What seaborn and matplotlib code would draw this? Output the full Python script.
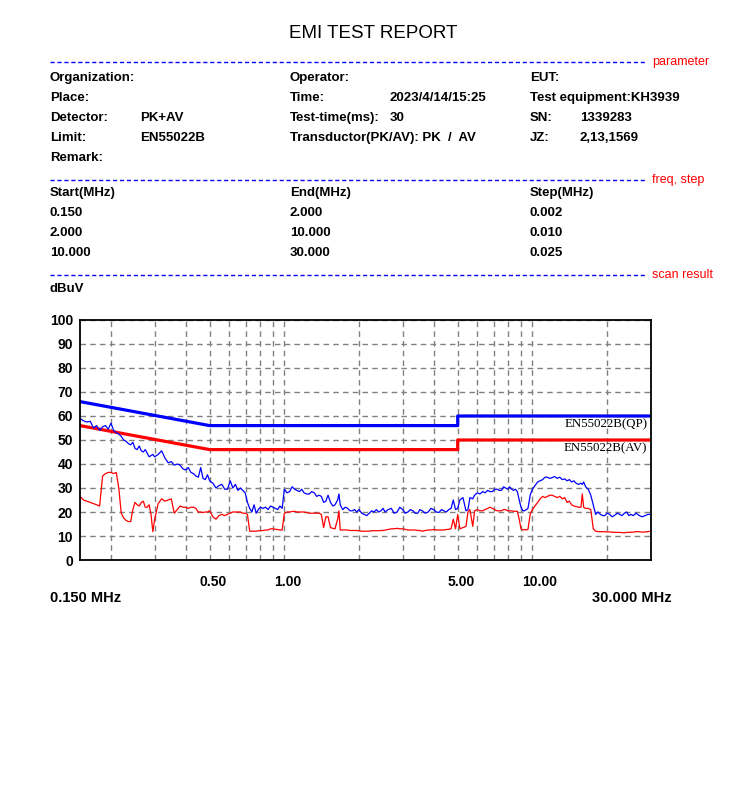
import matplotlib
matplotlib.use("Agg")
import matplotlib.pyplot as plt
from matplotlib.lines import Line2D
from matplotlib.transforms import ScaledTranslation
import pandas as pd
import seaborn as sns

# ── Scan data ─────────────────────────────────────────────────
freq_mhz = [0.150, 0.155, 0.160, 0.165, 0.170, 0.175, 0.180, 0.185, 0.190, 0.195,
            0.200, 0.205, 0.210, 0.215, 0.220, 0.225, 0.230, 0.235, 0.240, 0.245,
            0.250, 0.255, 0.260, 0.265, 0.270, 0.275, 0.280, 0.285, 0.290, 0.295,
            0.30, 0.31, 0.32, 0.33, 0.34, 0.35, 0.36, 0.37, 0.38, 0.39,
            0.40, 0.41, 0.42, 0.43, 0.44, 0.45, 0.46, 0.47, 0.48, 0.49,
            0.500, 0.515, 0.530, 0.545, 0.560, 0.575, 0.590, 0.605, 0.620, 0.635,
            0.650, 0.665, 0.680, 0.695, 0.710, 0.725, 0.740, 0.755, 0.770, 0.785,
            0.80, 0.82, 0.84, 0.86, 0.88, 0.90, 0.92, 0.94, 0.96, 0.98,
            1.000, 1.025, 1.050, 1.075, 1.100, 1.125, 1.150, 1.175, 1.20, 1.23,
            1.26, 1.29, 1.32, 1.35, 1.38, 1.41, 1.44, 1.47, 1.50, 1.535,
            1.57, 1.60, 1.64, 1.66, 1.68, 1.72, 1.76, 1.80, 1.84, 1.88,
            1.92, 1.96, 2.00, 2.05, 2.10, 2.15, 2.20, 2.25, 2.30, 2.35,
            2.40, 2.45, 2.50, 2.55, 2.62, 2.70, 2.77, 2.85, 2.92, 3.00,
            3.07, 3.15, 3.22, 3.30, 3.37, 3.45, 3.52, 3.60, 3.70, 3.80,
            3.90, 4.00, 4.10, 4.20, 4.30, 4.40, 4.50, 4.60, 4.70, 4.80,
            4.90, 5.00, 5.10, 5.25, 5.40, 5.50, 5.60, 5.75, 5.85, 6.00,
            6.15, 6.30, 6.45, 6.60, 6.75, 6.90, 7.05, 7.20, 7.35, 7.50,
            7.65, 7.80, 7.95, 8.10, 8.25, 8.40, 8.55, 8.70, 8.85, 9.00,
            9.15, 9.30, 9.45, 9.60, 9.80, 10.0, 10.25, 10.5, 10.75, 11.0,
            11.25, 11.5, 11.75, 12.0, 12.3, 12.6, 12.9, 13.2, 13.5, 13.8,
            14.1, 14.4, 14.7, 15.0, 15.35, 15.7, 15.9, 16.1, 16.4, 16.8,
            17.2, 17.6, 18.0, 18.4, 18.8, 19.2, 19.6, 20.0, 20.5, 21.0,
            21.5, 22.0, 22.5, 23.0, 23.5, 24.0, 24.5, 25.0, 25.5, 26.2,
            27.0, 27.7, 28.5, 29.2, 30.0]

peak_dbuv = [59.0, 58.0, 57.5, 57.8, 55.0, 56.0, 54.0, 55.5, 56.0, 54.5,
             57.0, 54.0, 53.0, 52.5, 51.5, 50.0, 49.5, 48.5, 48.0, 49.0,
             46.5, 46.0, 47.5, 45.5, 45.0, 46.0, 44.5, 43.0, 43.5, 44.0,
             43.0, 44.0, 45.5, 42.5, 40.5, 41.0, 39.5, 40.0, 39.5, 38.0,
             37.5, 38.5, 36.5, 36.0, 35.0, 34.5, 38.5, 34.0, 33.5, 35.5,
             33.0, 32.0, 30.0, 31.0, 31.5, 29.5, 29.5, 33.0, 30.0, 31.5,
             29.0, 30.0, 29.0, 28.0, 24.0, 21.5, 20.0, 23.0, 19.5, 21.0,
             22.0, 21.5, 22.0, 21.0, 22.5, 22.0, 21.5, 21.0, 22.5, 21.5,
             29.5, 28.0, 28.5, 30.5, 29.5, 29.0, 28.5, 29.5, 28.0, 27.5,
             27.5, 28.5, 28.0, 26.5, 27.0, 26.5, 24.0, 24.5, 27.0, 24.0,
             22.5, 23.0, 25.0, 27.5, 23.0, 21.0, 22.0, 21.5, 20.5, 20.5,
             21.0, 20.0, 21.0, 19.5, 19.0, 18.5, 19.5, 20.5, 20.0, 21.0,
             20.0, 20.5, 21.5, 20.0, 21.0, 21.5, 19.5, 20.0, 22.0, 21.0,
             19.5, 20.0, 21.0, 20.5, 19.5, 19.5, 21.0, 20.5, 19.5, 20.0,
             21.5, 21.0, 20.0, 19.8, 21.0, 20.5, 20.0, 21.0, 21.5, 25.0,
             21.0, 21.5, 25.0, 26.0, 20.5, 21.0, 26.0, 25.5, 27.0, 28.0,
             27.5, 28.5, 28.0, 29.0, 28.5, 28.5, 29.5, 29.5, 29.0, 29.0,
             30.5, 30.0, 29.5, 30.5, 29.5, 29.0, 29.5, 28.5, 25.0, 22.0,
             20.5, 20.5, 21.0, 21.5, 27.0, 29.5, 31.0, 32.5, 33.0, 33.5,
             34.5, 34.5, 34.0, 34.3, 34.8, 34.0, 34.5, 33.5, 33.8, 33.0,
             33.5, 32.5, 33.0, 32.0, 31.5, 32.0, 31.5, 32.5, 30.5, 29.5,
             27.0, 23.0, 19.0, 20.0, 19.0, 18.5, 18.5, 19.5, 19.0, 18.0,
             18.7, 19.5, 19.0, 18.5, 19.5, 20.0, 18.5, 19.0, 18.5, 19.5,
             18.5, 18.0, 18.5, 19.0, 19.0]

avg_dbuv = [26.5, 25.0, 24.5, 24.0, 23.5, 23.0, 22.5, 35.0, 36.0, 36.5,
            36.5, 36.0, 36.5, 30.0, 19.5, 17.5, 16.5, 16.0, 16.0, 21.0,
            24.0, 23.0, 22.5, 24.0, 24.5, 22.0, 22.0, 23.0, 19.0, 11.8,
            17.0, 23.5, 25.5, 24.5, 25.0, 25.5, 19.5, 21.0, 22.5, 22.0,
            22.0, 21.5, 22.0, 22.0, 21.5, 20.0, 20.0, 19.8, 20.0, 20.0,
            20.5, 18.0, 17.0, 18.5, 19.0, 18.5, 19.0, 19.5, 20.0, 20.0,
            20.0, 20.0, 19.5, 19.5, 19.0, 12.0, 12.0, 12.0, 12.0, 12.2,
            12.2, 12.3, 12.5, 12.5, 13.0, 13.0, 12.8, 12.7, 12.5, 12.5,
            19.5, 20.0, 20.0, 20.2, 20.3, 20.0, 20.0, 20.0, 20.0, 19.8,
            19.5, 19.5, 19.5, 19.5, 19.5, 19.0, 13.5, 18.0, 18.0, 13.5,
            13.2, 13.0, 17.0, 20.5, 12.5, 12.5, 12.5, 12.5, 12.3, 12.3,
            12.3, 12.3, 12.2, 12.0, 12.0, 12.0, 12.0, 12.2, 12.2, 12.2,
            12.2, 12.3, 12.3, 12.5, 12.7, 13.0, 13.0, 13.2, 13.0, 13.0,
            12.8, 12.5, 12.5, 12.5, 12.5, 12.3, 12.3, 12.0, 12.3, 12.5,
            12.5, 12.7, 12.5, 12.5, 12.5, 12.5, 12.7, 12.8, 13.0, 17.0,
            13.0, 19.0, 13.0, 13.5, 14.0, 20.0, 21.0, 14.0, 20.5, 21.0,
            20.5, 20.5, 21.0, 21.5, 22.0, 21.5, 21.0, 20.5, 20.5, 20.5,
            21.0, 21.0, 20.5, 20.5, 20.5, 20.3, 20.3, 20.3, 17.0, 13.0,
            12.5, 12.7, 12.5, 12.8, 19.0, 21.0, 22.5, 24.0, 25.5, 26.5,
            26.0, 26.5, 27.0, 27.0, 26.5, 26.0, 26.5, 25.5, 26.0, 24.0,
            24.5, 23.0, 22.5, 22.3, 22.0, 22.0, 27.5, 22.0, 21.5, 21.5,
            21.0, 13.0, 12.0, 11.8, 11.8, 11.8, 11.8, 11.7, 11.7, 11.6,
            11.5, 11.5, 11.5, 11.4, 11.3, 11.5, 11.5, 11.6, 11.6, 11.8,
            11.8, 11.6, 11.7, 11.8, 12.0]

# EN55022 class B limits
limit_freq = [0.15, 0.5, 5.0, 5.0, 30.0]
limit_qp = [66, 56, 56, 60, 60]
limit_av = [56, 46, 46, 50, 50]

x_label_freqs = [0.5, 1.0, 5.0, 10.0]
x_labels = ["0.50", "1.00", "5.00", "10.00"]
grid_freqs = [0.2, 0.3, 0.4, 0.5, 0.6, 0.7, 0.8, 0.9, 1.0,
              2, 3, 4, 5, 6, 7, 8, 9, 10, 20]
y_ticks = list(range(0, 101, 10))

sns.set_theme(style="white")
plt.rcParams["font.family"] = ["Liberation Sans", "DejaVu Sans"]
plt.rcParams["text.color"] = "black"

W, H = 750, 800
fig = plt.figure(figsize=(W / 100, H / 100), dpi=100)


def fx(x):
    return x / W


def fy(y):
    return 1 - y / H


def label(x, y, s, **kw):
    kw.setdefault("fontsize", 9.5)
    kw.setdefault("fontweight", "bold")
    kw.setdefault("color", "black")
    fig.text(fx(x), fy(y), s, va="center", ha=kw.pop("ha", "left"), **kw)


# ── Header ────────────────────────────────────────────────────
label(373, 33, "EMI TEST REPORT", ha="center", fontsize=13.5, fontweight="normal")

for y, tag in [(62, "parameter"), (180, "freq, step"), (275, "scan result")]:
    fig.add_artist(Line2D([fx(50), fx(646)], [fy(y), fy(y)], color="#0000ff",
                          lw=1, linestyle=(0, (3, 2))))
    label(652, y, tag, color="#ff0000", fontsize=9, fontweight="normal")

rows = [
    (78, [(50, "Organization:"), (290, "Operator:"), (530, "EUT:")]),
    (98, [(50, "Place:"), (290, "Time:"), (390, "2023/4/14/15:25"),
          (530, "Test equipment:KH3939")]),
    (118, [(50, "Detector:"), (140, "PK+AV"), (290, "Test-time(ms):"), (390, "30"),
           (530, "SN:"), (580, "1339283")]),
    (138, [(50, "Limit:"), (140, "EN55022B"), (290, "Transductor(PK/AV): PK  /  AV"),
           (530, "JZ:"), (580, "2,13,1569")]),
    (158, [(50, "Remark:")]),
    (193, [(50, "Start(MHz)"), (290, "End(MHz)"), (530, "Step(MHz)")]),
    (213, [(50, "0.150"), (290, "2.000"), (530, "0.002")]),
    (233, [(50, "2.000"), (290, "10.000"), (530, "0.010")]),
    (253, [(50, "10.000"), (290, "30.000"), (530, "0.025")]),
    (289, [(50, "dBuV")]),
]
for y, items in rows:
    for x, s in items:
        label(x, y, s)

# ── Plot ──────────────────────────────────────────────────────
ax = fig.add_axes([fx(80), fy(560), (650.7 - 80) / W, 240 / H])

scan = pd.DataFrame({"freq": freq_mhz, "peak": peak_dbuv, "avg": avg_dbuv})
limits = pd.DataFrame({"freq": limit_freq, "qp": limit_qp, "av": limit_av})

sns.lineplot(data=limits, x="freq", y="qp", ax=ax, color="#0000ff", lw=2.3,
             estimator=None, sort=False)
sns.lineplot(data=limits, x="freq", y="av", ax=ax, color="#ff0000", lw=2.3,
             estimator=None, sort=False)
sns.lineplot(data=scan, x="freq", y="avg", ax=ax, color="#ff0000", lw=0.9,
             estimator=None, sort=False)
sns.lineplot(data=scan, x="freq", y="peak", ax=ax, color="#0000ff", lw=0.9,
             estimator=None, sort=False)

ax.set_xscale("log")
ax.set_xlim(0.15, 30)
ax.set_ylim(0, 100)
ax.set_xlabel("")
ax.set_ylabel("")

ax.set_xticks(grid_freqs, minor=True)
ax.set_xticks(x_label_freqs, x_labels)
ax.set_yticks(y_ticks)
ax.tick_params(axis="both", which="both", length=0)
ax.tick_params(axis="x", which="minor", labelbottom=False)
ax.tick_params(axis="x", pad=11, labelsize=10)
ax.tick_params(axis="y", pad=5, labelsize=10)
for lbl in ax.get_xticklabels() + ax.get_yticklabels():
    lbl.set_fontweight("bold")
    lbl.set_color("black")
for lbl in ax.get_xticklabels():
    lbl.set_horizontalalignment("left")
    lbl.set_transform(lbl.get_transform() + ScaledTranslation(-10 / 100, 0, fig.dpi_scale_trans))

ax.grid(True, which="both", axis="x", color="#808080", lw=1, linestyle=(0, (4, 3)))
ax.grid(True, which="major", axis="y", color="#808080", lw=1, linestyle=(0, (4, 3)))
for sp in ax.spines.values():
    sp.set_color("black")
    sp.set_linewidth(1.3)

ax.text(0.994, 60 - 3.3, "EN55022B(QP)", transform=ax.get_yaxis_transform(),
        ha="right", va="center", fontsize=9.3, color="black",
        family=["Liberation Serif", "DejaVu Serif"])
ax.text(0.994, 50 - 3.3, "EN55022B(AV)", transform=ax.get_yaxis_transform(),
        ha="right", va="center", fontsize=9.3, color="black",
        family=["Liberation Serif", "DejaVu Serif"])

label(50, 598, "0.150 MHz", fontsize=10.5)
label(672, 598, "30.000 MHz", fontsize=10.5, ha="right")

fig.savefig("out.png", dpi=100, facecolor="white")
